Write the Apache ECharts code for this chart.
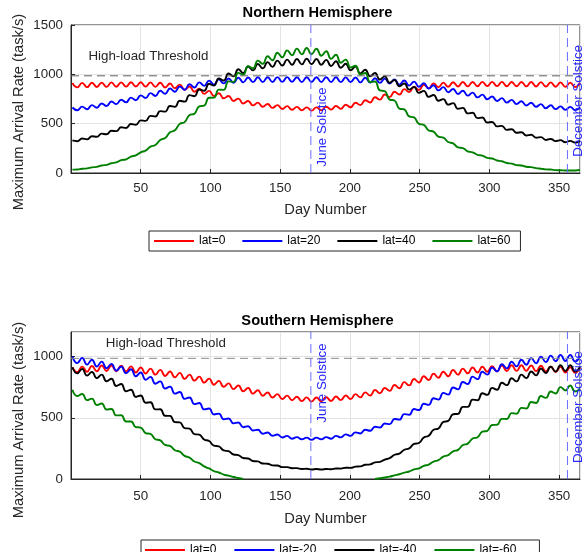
<!DOCTYPE html>
<html><head><meta charset="utf-8">
<script src="https://cdn.jsdelivr.net/npm/echarts@6/dist/echarts.min.js"></script>
<style>html,body{margin:0;padding:0;background:#fff}#c{width:586px;height:552px}</style>
</head><body><div id="c"></div>
<script>
// Sample days (weekly peaks and troughs, every half week)
const days = [1,4.5,8,11.5,15,18.5,22,25.5,29,32.5,36,39.5,43,46.5,50,53.5,57,60.5,64,67.5,71,74.5,78,81.5,85,88.5,92,95.5,99,102.5,106,109.5,113,116.5,120,123.5,127,130.5,134,137.5,141,144.5,148,151.5,155,158.5,162,165.5,169,172.5,176,179.5,183,186.5,190,193.5,197,200.5,204,207.5,211,214.5,218,221.5,225,228.5,232,235.5,239,242.5,246,249.5,253,256.5,260,263.5,267,270.5,274,277.5,281,284.5,288,291.5,295,298.5,302,305.5,309,312.5,316,319.5,323,326.5,330,333.5,337,340.5,344,347.5,351,354.5,358,361.5,365];

// Northern hemisphere
const north0 = [912,868,913,870,915,872,916,873,918,874, 919,875,920,876,920,875,918,873,914,867, 907,859,896,844,876,824,855,802,832,780, 808,757,781,730,754,705,730,685,713,672, 700,660,688,649,678,641,670,635,665,632, 665,635,671,642,679,650,692,666,712,689, 738,715,767,744,795,769,823,796,850,820, 874,841,894,858,908,869,916,874,920,877, 922,878,923,879,924,880,924,880,924,879, 923,879,923,878,922,877,921,876,919,874, 918,873,916,871,915];
const north20 = [664,636,673,646,688,662,705,679,724,698, 743,716,764,738,787,760,810,781,833,803, 856,824,876,844,899,866,919,883,936,896, 949,908,958,915,965,919,968,921,970,922, 971,923,972,924,972,924,971,923,971,923, 971,922,970,922,970,921,969,921,968,918, 965,916,961,913,956,906,947,896,937,886, 926,874,910,856,890,837,870,819,852,801, 833,784,815,766,794,747,776,729,759,713, 741,698,727,684,712,671,698,657,686,647, 675,640,670,636,666];
const north40 = [330,322,349,341,372,367,399,392,428,424, 463,456,496,489,533,528,579,573,627,622, 679,670,732,723,789,778,847,833,904,886, 958,937,1008,979,1051,1013,1079,1040,1104,1060, 1124,1076,1139,1089,1149,1097,1156,1101,1158,1102, 1156,1097,1147,1084,1133,1066,1108,1041,1078,1010, 1046,979,1013,947,979,914,943,879,907,845, 871,812,832,772,791,732,749,693,708,651, 660,604,610,556,562,512,517,473,478,437, 444,408,413,380,387,358,364,335,345,323, 333,312,326,308,323];
const north60 = [34,36,43,47,57,62,76,83,99,108, 130,139,167,179,210,227,268,283,335,355, 412,433,498,516,587,601,675,683,762,764, 845,842,929,924,1015,997,1083,1061,1139,1106, 1184,1143,1218,1173,1243,1193,1261,1202,1267,1204, 1260,1189,1234,1157,1199,1117,1149,1068,1087,999, 1013,922,928,837,830,744,735,653,644,574, 564,498,488,431,419,369,359,314,300,260, 253,219,210,184,177,153,147,127,119,101, 95,80,76,63,59,49,43,37,35,29, 28,25,26,26,31];

// Southern hemisphere
const south0 = [912,871,917,875,922,879,927,882,927,880, 925,878,919,870,910,861,901,852,891,841, 878,830,866,817,852,803,836,787,819,770, 801,753,781,734,763,716,743,697,724,680, 706,665,693,653,681,643,671,636,666,632, 665,634,667,637,673,644,682,652,693,666, 707,681,726,699,743,719,767,741,791,764, 816,788,839,808,860,827,876,839,890,852, 901,862,910,869,916,875,921,878,926,882, 928,883,929,883,927,880,925,878,919,873, 915,869,912,867,910];
const south20 = [999,946,989,934,974,918,958,904,940,884, 918,864,896,839,869,810,834,777,797,738, 754,697,710,654,665,611,620,568,575,527, 534,488,494,454,461,423,431,396,402,370, 380,353,363,339,352,329,342,324,338,320, 338,324,342,329,352,340,364,352,381,372, 402,394,427,420,453,448,490,485,530,524, 571,563,614,605,659,648,703,689,747,732, 792,775,836,815,876,852,910,879,937,903, 957,919,974,933,987,945,999,955,1007,961, 1013,963,1013,958,1002];
const south40 = [912,862,899,844,874,823,852,798,818,759, 775,716,729,670,682,623,626,568,569,516, 515,464,462,415,411,367,362,322,310,273, 267,233,227,200,195,171,167,147,144,126, 125,111,110,97,97,88,89,82,84,78, 82,78,82,79,86,85,92,91,101,103, 116,119,136,140,159,170,198,207,239,250, 286,294,339,353,402,413,466,474,529,532, 589,589,648,643,700,687,744,728,786,766, 822,797,852,824,878,846,902,865,916,878, 928,882,928,877,914];
const south60 = [728,677,694,644,656,604,616,567,571,519, 520,470,470,424,420,375,368,325,315,278, 270,235,223,189,174,143,129,103,86,65, 53,36,27,16,8,0, null,null,null,null,null,null,null,null,null,null,null,null,null,null,null,null,null,null,null,null,null,null,null,null,null,null, 0,6,12,19,30,39,52,61, 78,87,107,118,142,154,183,195,226,238, 277,289,330,341,386,393,441,443,491,490, 538,533,581,575,628,621,677,662,714,698, 750,723,763,714,736];

const northNames = ['lat=0','lat=20','lat=40','lat=60'];
const southNames = ['lat=0','lat=-20','lat=-40','lat=-60'];
const colors = ['#ff0000','#0000ff','#000000','#008000'];
const thresholdValue = 985;
const solsticeDays = [172, 356];
const solsticeNames = ['June Solstice','December Solstice'];
const titles = ['Northern Hemisphere','Southern Hemisphere'];
const yLabel = 'Maximum Arrival Rate (task/s)';
const xLabel = 'Day Number';
const xRange = [0, 365];
const yMax = [1500, 1200];
// annotation anchor points in data coordinates
const thresholdLabelAt = [[12.5, 1180], [25, 1110]];
const solsticeLabelBase = [[64, 165], [460, 131]];

const FONT = '"Liberation Sans", Arial, Helvetica, sans-serif';
const AX = '#262626';

function mkX(gi, gap, margin){
  return {type:'value', gridIndex:gi, min:xRange[0], max:xRange[1], interval:50,
    name:xLabel, nameLocation:'middle', nameGap:gap,
    nameTextStyle:{fontSize:14.67, color:AX, fontFamily:FONT},
    axisLine:{show:true, lineStyle:{color:AX, width:1}},
    axisTick:{show:true, inside:true, length:4, lineStyle:{color:AX}},
    axisLabel:{fontSize:13.33, color:AX, margin:margin, showMinLabel:false, showMaxLabel:false, fontFamily:FONT,
      formatter:v=>String(v)},
    splitLine:{show:true, lineStyle:{color:'#e3e3e3', width:1}}};
}
function mkY(gi){
  const max = yMax[gi];
  return {type:'value', gridIndex:gi, min:0, max:max, interval:500,
    axisLine:{show:true, lineStyle:{color:AX, width:1}},
    axisTick:{show:true, inside:true, length:4, lineStyle:{color:AX}},
    axisLabel:{fontSize:13.33, color:AX, margin:8, showMaxLabel: max%500===0, fontFamily:FONT,
      formatter:v=>String(v)},
    splitLine:{show:true, lineStyle:{color:'#e3e3e3', width:1}}};
}
function mkS(name, arr, color, gi){
  return {type:'line', name:name, xAxisIndex:gi, yAxisIndex:gi,
    data: days.map((d,i)=>[d, arr[i]]),
    showSymbol:false, symbol:'none', smooth:0.5, connectNulls:false, silent:true,
    lineStyle:{color:color, width:1.9}, itemStyle:{color:color}};
}
function mkRef(gi, pts, color, dash){
  return {type:'line', name:'_ref', xAxisIndex:gi, yAxisIndex:gi, data:pts, silent:true,
    showSymbol:false, symbol:'none', animation:false, z:3,
    lineStyle:{color:color, width:1, type:dash}, itemStyle:{color:color}};
}

const nData = [north0, north20, north40, north60];
const sData = [south0, south20, south40, south60];
const series = [];
nData.forEach((a,i)=>series.push(mkS(northNames[i], a, colors[i], 0)));
sData.forEach((a,i)=>series.push(mkS(southNames[i], a, colors[i], 1)));
[0,1].forEach(gi=>{
  series.push(mkRef(gi, [[xRange[0], thresholdValue],[xRange[1], thresholdValue]], gi===0?'#606060':'#8a8a8a', [8,5]));
  solsticeDays.forEach(d=>series.push(mkRef(gi, [[d,0],[d,yMax[gi]]], '#6b6bff', [9,5])));
});

function mkLegend(names, left, top, pad, gap){
  return {data:names, left:left, top:top, orient:'horizontal', icon:'rect', itemWidth:40, itemHeight:2,
    itemGap:gap, padding:pad, borderColor:AX, borderWidth:1, backgroundColor:'#fff', selectedMode:false,
    textStyle:{fontSize:12, color:'#000', fontFamily:FONT}};
}

const option = {
  animation:false,
  backgroundColor:'#ffffff',
  textStyle:{fontFamily:FONT},
  grid:[
    {left:71, width:509, top:25, height:148, show:true, borderColor:AX, borderWidth:1, backgroundColor:'transparent'},
    {left:71, width:509, top:332, height:147, show:true, borderColor:AX, borderWidth:1, backgroundColor:'transparent'}
  ],
  xAxis:[mkX(0,29,9), mkX(1,32,11)],
  yAxis:[mkY(0), mkY(1)],
  legend:[mkLegend(northNames,149,231,[4,10,4,5],17), mkLegend(southNames,141,540,[4,23,4,4],18)],
  series:series
};

const chart = echarts.init(document.getElementById('c'), null, {renderer:'canvas'});
chart.setOption(option);

const g = [];
const titleY = [13, 320.5];
const yNameY = [112, 420];
[0,1].forEach(gi=>{
  g.push({type:'text', x:317.5, y:titleY[gi], z:100,
    style:{text:titles[gi], font:'bold 14.67px '+FONT, fill:'#000', align:'center', verticalAlign:'middle'}});
  g.push({type:'text', x:19, y:yNameY[gi], rotation:Math.PI/2, z:100,
    style:{text:yLabel, font:'14.67px '+FONT, fill:AX, align:'center', verticalAlign:'middle'}});
  const tp = chart.convertToPixel({gridIndex:gi}, thresholdLabelAt[gi]);
  g.push({type:'text', x:tp[0], y:tp[1], z:100,
    style:{text:'High-load Threshold', font:'13.33px '+FONT, fill:AX, align:'left', verticalAlign:'middle'}});
  solsticeDays.forEach((d,si)=>{
    const p = chart.convertToPixel({gridIndex:gi}, [d, solsticeLabelBase[gi][si]]);
    g.push({type:'text', x:p[0]+11, y:p[1], rotation:Math.PI/2, z:100,
      style:{text:solsticeNames[si], font:'13.33px '+FONT, fill:'#2626ff', align:'left', verticalAlign:'middle'}});
  });
});
chart.setOption({graphic:g});
</script></body></html>
